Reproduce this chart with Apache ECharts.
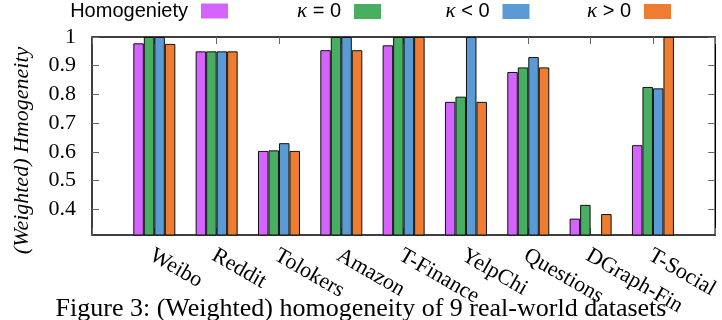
<!DOCTYPE html>
<html>
<head>
<meta charset="utf-8">
<script src="https://cdn.jsdelivr.net/npm/echarts@6/dist/echarts.min.js"></script>
<style>html,body{margin:0;padding:0;background:#fff}#c{width:722px;height:320px}</style>
</head>
<body>
<div id="c"></div>
<script>
const categories = ['Weibo', 'Reddit', 'Tolokers', 'Amazon', 'T-Finance', 'YelpChi', 'Questions', 'DGraph-Fin', 'T-Social'];
const homogeneity = [0.978, 0.950, 0.603, 0.954, 0.971, 0.774, 0.878, 0.367, 0.623];
const kappaZero   = [1.0, 0.950, 0.605, 1.0, 1.0, 0.792, 0.894, 0.415, 0.826];
const kappaNeg    = [1.0, 0.950, 0.630, 1.0, 1.0, 1.0, 0.930, null, 0.821];
const kappaPos    = [0.976, 0.950, 0.603, 0.954, 1.0, 0.774, 0.894, 0.383, 1.0];
const yTicks = [0.4, 0.5, 0.6, 0.7, 0.8, 0.9, 1];
const seriesNames = ['Homogeniety', 'κ = 0', 'κ < 0', 'κ > 0'];
const caption = 'Figure 3: (Weighted) homogeneity of 9 real-world datasets';
const yTitle = '(Weighted) Hmogeneity';

const colors = ['#D463FF', '#47AE62', '#5B9BD5', '#EE7D31'];
const axisCats = [''].concat(categories, ['']);
const pad = arr => [null].concat(arr, [null]);
const serif = 'Liberation Serif, Times New Roman, serif';
const sans = 'Liberation Sans, Arial, sans-serif';

const chart = echarts.init(document.getElementById('c'), null, {renderer: 'canvas'});

const legendRights = [494, 341, 192.5, 51];
const legends = seriesNames.map((n, i) => ({
  data: [{name: n, icon: 'rect'}],
  right: legendRights[i],
  top: 1,
  padding: 0,
  align: 'right',
  itemWidth: 27,
  itemHeight: 15,
  selectedMode: false,
  itemStyle: {borderWidth: 0},
  formatter: name => name.indexOf('κ') === 0 ? '{k|κ}{t|' + name.slice(1) + '}{g|}' : '{t|' + name + '}{g|}',
  textStyle: {
    fontFamily: sans, fontSize: 20, color: '#000',
    rich: {
      t: {fontFamily: sans, fontSize: 20, color: '#000'},
      k: {fontFamily: serif, fontStyle: 'italic', fontSize: 21, color: '#000'},
      g: {width: 8}
    }
  }
}));

const dataSets = [homogeneity, kappaZero, kappaNeg, kappaPos];

const option = {
  animation: false,
  legend: legends,
  grid: {left: 92, right: 5, top: 37, bottom: 85, show: true, borderColor: '#000', borderWidth: 1.5, backgroundColor: 'transparent'},
  xAxis: [{
    type: 'category', data: axisCats, boundaryGap: false, position: 'bottom',
    axisLine: {show: false},
    axisTick: {show: true, inside: true, length: 7, interval: 0, lineStyle: {color: '#666', width: 1}},
    axisLabel: {interval: 0, rotate: -30, align: 'left', verticalAlign: 'top', margin: 8,
      padding: [0, 0, 0, 3],
      fontFamily: serif, fontSize: 22, color: '#000', hideOverlap: false},
    splitLine: {show: false}
  }, {
    type: 'category', data: axisCats, boundaryGap: false, position: 'top',
    axisLine: {show: false},
    axisTick: {show: true, inside: true, length: 7, interval: 0, lineStyle: {color: '#666', width: 1}},
    axisLabel: {show: false},
    splitLine: {show: false}
  }],
  yAxis: [{
    type: 'value', min: 0.31, max: 1, position: 'left',
    name: yTitle, nameLocation: 'middle', nameGap: 59,
    nameTextStyle: {fontFamily: serif, fontStyle: 'italic', fontSize: 22, color: '#000', padding: [0, 29, 0, 0]},
    axisLine: {show: false},
    axisTick: {show: true, inside: true, length: 7, customValues: yTicks, lineStyle: {color: '#666', width: 1}},
    axisLabel: {customValues: yTicks, margin: 16, fontFamily: serif, fontSize: 22, color: '#000'},
    splitLine: {show: false}
  }, {
    type: 'value', min: 0.31, max: 1, position: 'right',
    axisLine: {show: false},
    axisTick: {show: true, inside: true, length: 7, customValues: yTicks, lineStyle: {color: '#666', width: 1}},
    axisLabel: {show: false},
    splitLine: {show: false}
  }],
  series: dataSets.map((d, i) => ({
    name: seriesNames[i], type: 'bar', xAxisIndex: 0, yAxisIndex: 0,
    data: pad(d), barWidth: 10.5, barGap: '0%',
    itemStyle: {color: colors[i], borderColor: '#111', borderWidth: 1}
  })),
  graphic: [{
    type: 'text', x: 361, y: 309, z: -1,
    style: {text: caption, font: '26px ' + serif, fill: '#000', align: 'center', verticalAlign: 'middle'}
  }]
};
chart.setOption(option);
</script>
</body>
</html>
